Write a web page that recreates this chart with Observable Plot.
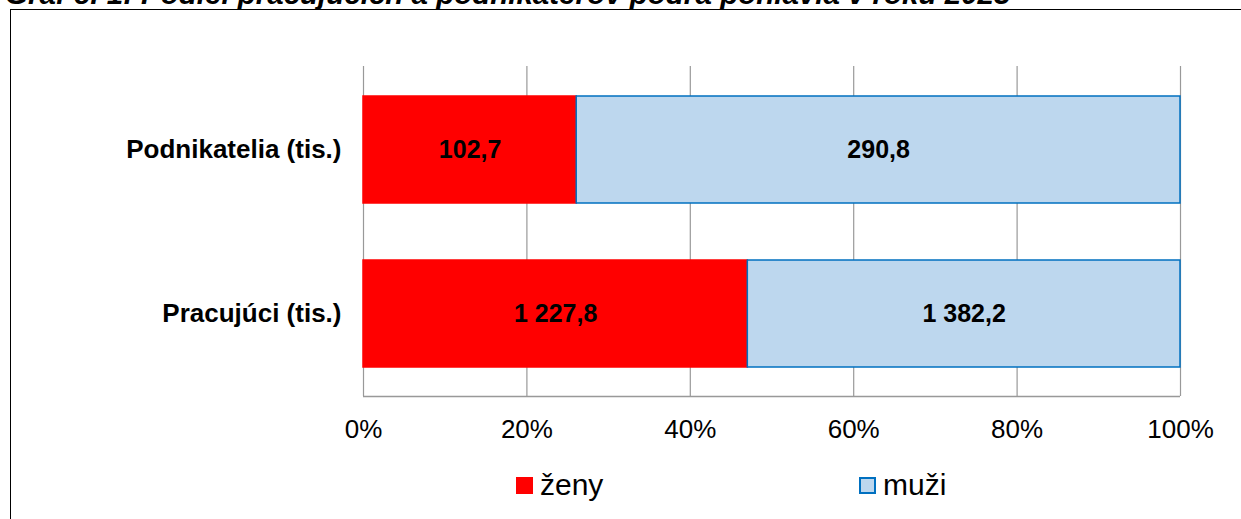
<!DOCTYPE html>
<html><head><meta charset="utf-8">
<script src="https://cdn.jsdelivr.net/npm/d3@7"></script>
<script src="https://cdn.jsdelivr.net/npm/@observablehq/plot@0.6"></script>
<style>
html,body{margin:0;padding:0;background:#fff;overflow:hidden;}
body{width:1241px;height:519px;position:relative;font-family:"Liberation Sans",Arial,sans-serif;}
#frame{position:absolute;left:10px;top:9px;width:1300px;height:600px;border:1.5px solid #000;box-sizing:border-box;}
#title{position:absolute;left:5px;top:-23px;font-weight:bold;font-style:italic;font-size:29.5px;white-space:nowrap;}
#chart{position:absolute;left:0;top:0;}
.leg{position:absolute;top:468px;font-size:30px;display:flex;align-items:center;}
.sw{width:17px;height:17px;box-sizing:border-box;margin-right:7px;}
</style></head>
<body>
<div id="frame"></div>
<div id="title">Graf č. 1: Podiel pracujúcich a podnikateľov podľa pohlavia v roku 2023</div>
<div id="chart"></div>
<div class="leg" style="left:516px"><div class="sw" style="background:#ff0000"></div>ženy</div>
<div class="leg" style="left:859px"><div class="sw" style="background:#bdd7ee;border:2px solid #0070c0"></div>muži</div>
<script>
const categories = ["Podnikatelia (tis.)", "Pracujúci (tis.)"];
const series = ["ženy", "muži"];
const zeny = [102.7, 1227.8];
const muzi = [290.8, 1382.2];
const ticks = [0, 0.2, 0.4, 0.6, 0.8, 1];

const data = [];
categories.forEach((c, i) => {
  data.push({cat: c, sex: "ženy", value: zeny[i]});
  data.push({cat: c, sex: "muži", value: muzi[i]});
});
const fmt = v => {
  const [a, b] = v.toFixed(1).split(".");
  return a.replace(/\B(?=(\d{3})+(?!\d))/g, " ") + "," + b;
};
const chart = Plot.plot({
  width: 1241, height: 460,
  marginTop: 66, marginLeft: 363, marginRight: 61, marginBottom: 64,
  style: {fontFamily: '"Liberation Sans", Arial, sans-serif', background: "transparent", color: "#000"},
  x: {domain: [0, 1]},
  y: {domain: categories, paddingInner: 0.35, paddingOuter: 0.176},
  color: {domain: series, range: ["#ff0000", "#bdd7ee"]},
  marks: [
    Plot.ruleX(ticks, {stroke: "#999", strokeWidth: 1.2}),
    Plot.ruleY([categories[1]], {dy: 82.5, stroke: "#999", strokeWidth: 1.5}),
    Plot.barX(data, Plot.stackX({offset: "normalize", x: "value", y: "cat", z: "sex", fill: "sex", order: series,
      stroke: d => d.sex === "muži" ? "#0070c0" : "#ff0000", strokeWidth: 1.5, inset: 0})),
    Plot.text(data, Plot.stackX({offset: "normalize", x: "value", y: "cat", z: "sex", order: series,
      text: d => fmt(d.value), fontSize: 25, fontWeight: "bold", fill: "#000"})),
    Plot.axisX(ticks, {tickFormat: d => Math.round(d * 100) + "%", tickSize: 0, tickPadding: 23, fontSize: 26, label: null}),
    Plot.axisY({tickSize: 0, tickPadding: 22, fontSize: 26, fontWeight: "bold", label: null})
  ]
});
document.getElementById("chart").appendChild(chart);
</script>
</body></html>
